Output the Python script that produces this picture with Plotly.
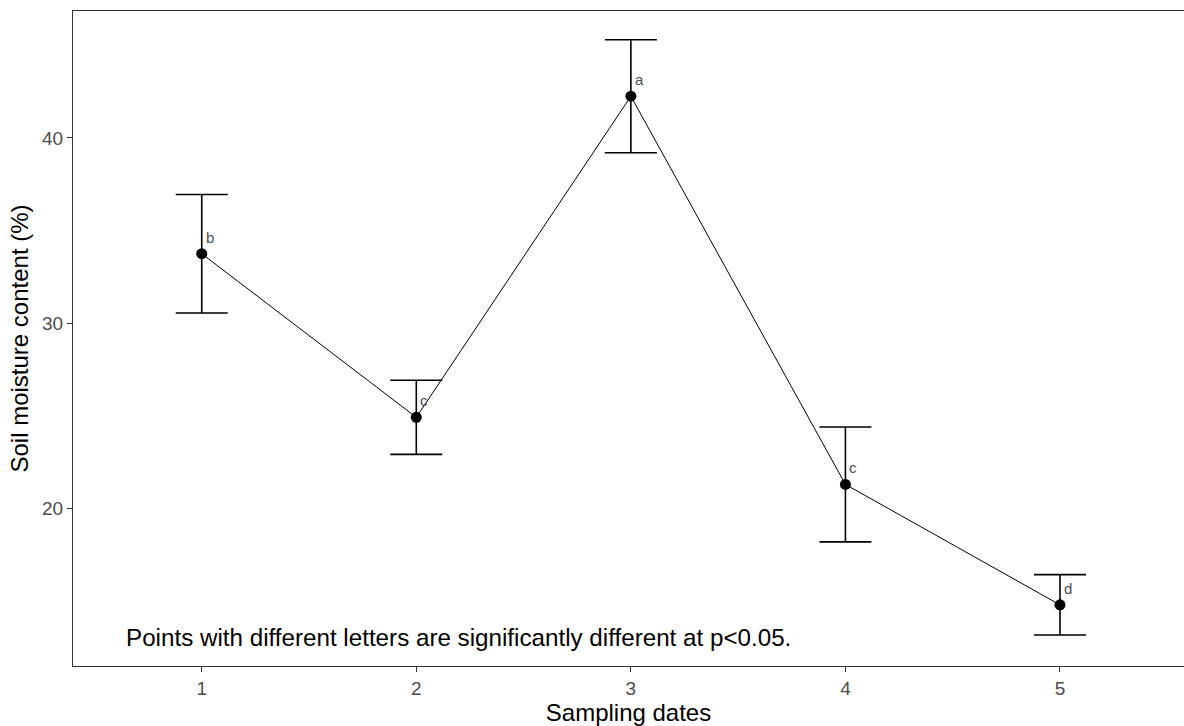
import plotly.graph_objects as go

# Sampling date index, mean soil moisture (%), and error half-widths
dates = [1, 2, 3, 4, 5]
moisture = [33.75, 24.92, 42.25, 21.3, 14.8]
err = [3.2, 2.0, 3.05, 3.1, 1.63]
letters = ["b", "c", "a", "c", "d"]

note = "Points with different letters are significantly different at p<0.05."

fig = go.Figure()

fig.add_trace(go.Scatter(
    x=dates, y=moisture,
    mode="lines+markers",
    line=dict(color="black", width=1),
    marker=dict(color="black", size=11),
    error_y=dict(type="data", array=err, visible=True,
                 color="black", thickness=1.6, width=26),
    showlegend=False,
))

for d, m, lab in zip(dates, moisture, letters):
    fig.add_annotation(x=d, y=m, text=lab, showarrow=False,
                       xanchor="left", yanchor="bottom",
                       xshift=2, yshift=6,
                       font=dict(family="Liberation Sans, Arial", size=15, color="#4d4d4d"))

fig.add_annotation(x=0.636, y=13.05, text=note, showarrow=False,
                   xanchor="left", yanchor="middle",
                   font=dict(family="Liberation Sans, Arial", size=24.2, color="black"))

fig.update_layout(
    width=1184, height=726,
    margin=dict(l=73, r=0, t=11, b=60),
    paper_bgcolor="white", plot_bgcolor="white",
    font=dict(family="Liberation Sans, Arial"),
)

fig.update_xaxes(
    range=[0.4, 5.578], tickvals=dates, ticktext=[str(d) for d in dates],
    showgrid=False, zeroline=False, automargin=False,
    showline=True, mirror=True, linecolor="#333333", linewidth=1.2,
    ticks="outside", ticklen=5, tickcolor="#333333",
    tickfont=dict(size=19, color="#4d4d4d"),
    title=dict(text="Sampling dates", font=dict(size=24, color="black"), standoff=2),
)
fig.update_yaxes(
    range=[11.5, 46.85], tickvals=[20, 30, 40],
    showgrid=False, zeroline=False, automargin=False,
    showline=True, mirror=False, linecolor="#333333", linewidth=1.2,
    ticks="outside", ticklen=5, tickcolor="#333333",
    tickfont=dict(size=19, color="#4d4d4d"),
    title=dict(text="Soil moisture content (%)", font=dict(size=24, color="black"), standoff=6),
)

fig.write_html("out.html")
